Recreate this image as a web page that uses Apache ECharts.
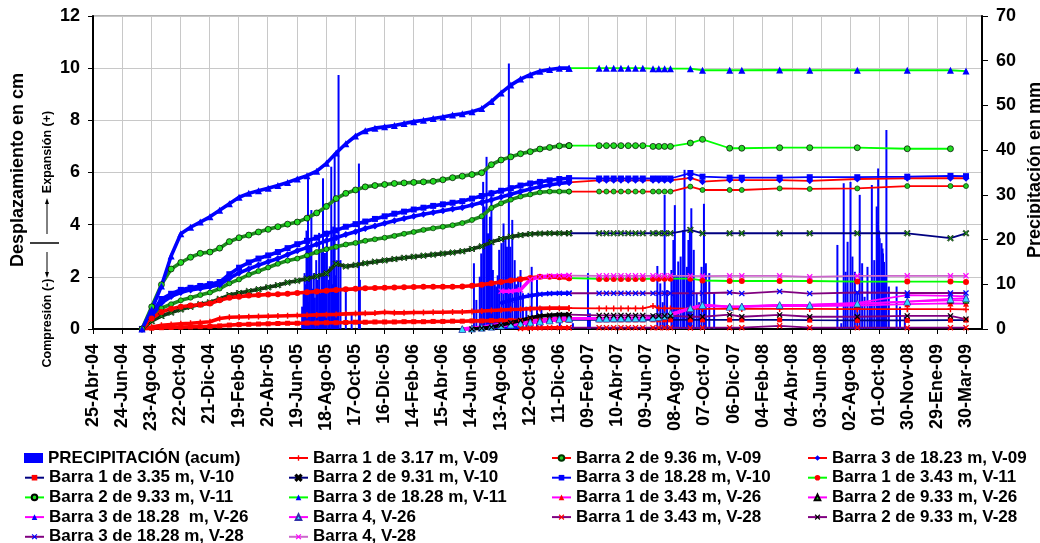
<!DOCTYPE html>
<html><head><meta charset="utf-8">
<script src="https://cdn.jsdelivr.net/npm/echarts@6.0.0/dist/echarts.min.js"></script>
<style>html,body{margin:0;padding:0;background:#fff}#c{width:1040px;height:543px}</style>
</head><body><div id="c"></div>
<script>
// ---------- DATA ----------
const tickLabels = ['25-Abr-04','24-Jun-04','23-Ago-04','22-Oct-04','21-Dic-04','19-Feb-05','20-Abr-05','19-Jun-05','18-Ago-05','17-Oct-05','16-Dic-05','14-Feb-06','15-Abr-06','14-Jun-06','13-Ago-06','12-Oct-06','11-Dic-06','09-Feb-07','10-Abr-07','09-Jun-07','08-Ago-07','07-Oct-07','06-Dic-07','04-Feb-08','04-Abr-08','03-Jun-08','02-Ago-08','01-Oct-08','30-Nov-08','29-Ene-09','30-Mar-09'];

const datesEarly = ['2004-08-04','2004-08-24','2004-09-13','2004-10-03','2004-10-23','2004-11-12','2004-12-02','2004-12-22','2005-01-11','2005-01-31','2005-02-20','2005-03-12','2005-04-01','2005-04-21','2005-05-11','2005-05-31','2005-06-20','2005-07-10','2005-07-30','2005-08-19','2005-09-08','2005-09-28','2005-10-18','2005-11-07','2005-11-27','2005-12-17','2006-01-06','2006-01-26','2006-02-15','2006-03-07','2006-03-27','2006-04-16','2006-05-06','2006-05-26','2006-06-15','2006-07-05','2006-07-25','2006-08-14','2006-09-03','2006-09-23','2006-10-13','2006-11-02','2006-11-22','2006-12-12','2007-01-01'];
const datesV2628 = ['2006-05-26','2006-06-15','2006-07-05','2006-07-25','2006-08-14','2006-09-03','2006-09-23','2006-10-13','2006-11-02','2006-11-22','2006-12-12','2007-01-01'];
const datesLate = ['2007-03-04','2007-03-19','2007-04-03','2007-04-18','2007-05-03','2007-05-18','2007-06-02','2007-06-23','2007-07-05','2007-07-17','2007-07-29','2007-09-08','2007-10-03','2007-11-28','2007-12-23','2008-03-10','2008-05-11','2008-08-17','2008-11-28','2009-02-25','2009-03-29'];

// V-09
const v09b1Early = [0,0.08,0.14,0.17,0.2,0.22,0.25,0.28,0.4,0.45,0.46,0.47,0.48,0.49,0.5,0.51,0.52,0.53,0.54,0.55,0.56,0.58,0.59,0.6,0.61,0.64,0.62,0.62,0.63,0.63,0.64,0.64,0.65,0.65,0.67,0.69,0.71,0.73,0.75,0.76,0.78,0.79,0.8,0.8,0.8];
const v09b1Late  = [0.79,0.79,0.79,0.79,0.79,0.79,0.79,0.88,0.8,0.79,0.79,0.78,0.77,0.77,0.77,0.77,0.77,0.76,0.76,0.76,0.75];
const v09b2Early = [0,0.45,0.8,0.95,1.1,1.2,1.3,1.4,1.55,1.75,1.9,2.08,2.22,2.36,2.5,2.62,2.7,2.82,2.95,3.06,3.15,3.24,3.3,3.38,3.44,3.5,3.57,3.65,3.72,3.8,3.86,3.92,3.98,4.06,4.18,4.32,4.64,4.82,4.96,5.08,5.16,5.24,5.27,5.27,5.27];
const v09b2Late  = [5.27,5.27,5.27,5.27,5.27,5.27,5.27,5.27,5.27,5.27,5.27,5.46,5.33,5.33,5.33,5.39,5.37,5.39,5.48,5.48,5.48];
const v09b3Early = [0,0.5,1.0,1.25,1.4,1.5,1.55,1.62,1.7,1.95,2.15,2.3,2.45,2.58,2.7,2.85,3.0,3.12,3.25,3.38,3.5,3.62,3.73,3.85,3.95,4.05,4.15,4.24,4.32,4.4,4.47,4.53,4.6,4.66,4.75,4.85,4.95,5.06,5.17,5.27,5.37,5.45,5.52,5.58,5.62];
const v09b3Late  = [5.7,5.7,5.7,5.7,5.7,5.7,5.7,5.7,5.7,5.7,5.7,5.79,5.65,5.71,5.71,5.71,5.68,5.75,5.78,5.78,5.78];
// V-10
const v10b1Early = [0,0.03,0.05,0.06,0.07,0.08,0.09,0.1,0.12,0.15,0.17,0.18,0.19,0.2,0.21,0.22,0.22,0.23,0.23,0.24,0.24,0.25,0.26,0.26,0.27,0.27,0.27,0.28,0.28,0.28,0.29,0.29,0.3,0.3,0.31,0.31,0.32,0.32,0.33,0.33,0.34,0.34,0.35,0.35,0.35];
const v10b1Late  = [0.35,0.35,0.35,0.35,0.35,0.35,0.35,0.35,0.35,0.35,0.35,0.35,0.35,0.35,0.35,0.35,0.34,0.33,0.33,0.34,0.34];
const v10b2Early = [0,0.3,0.5,0.63,0.75,0.85,0.95,1.02,1.15,1.3,1.38,1.45,1.52,1.6,1.68,1.78,1.85,1.93,2.02,2.13,2.5,2.4,2.45,2.52,2.58,2.63,2.68,2.73,2.77,2.81,2.85,2.89,2.93,2.98,3.07,3.17,3.33,3.45,3.54,3.6,3.64,3.66,3.67,3.67,3.67];
const v10b2Late  = [3.67,3.67,3.67,3.67,3.67,3.67,3.67,3.67,3.67,3.67,3.67,3.8,3.67,3.67,3.67,3.67,3.67,3.67,3.67,3.48,3.67];
const v10b3Early = [0,0.6,1.15,1.35,1.5,1.58,1.65,1.72,1.8,2.1,2.35,2.55,2.7,2.82,2.95,3.1,3.25,3.38,3.5,3.65,3.78,3.92,4.02,4.12,4.22,4.32,4.42,4.5,4.58,4.65,4.72,4.78,4.84,4.9,5.0,5.1,5.2,5.3,5.4,5.5,5.58,5.64,5.7,5.75,5.78];
const v10b3Late  = [5.77,5.77,5.77,5.77,5.77,5.77,5.77,5.77,5.77,5.77,5.77,5.98,5.84,5.8,5.8,5.8,5.82,5.82,5.84,5.87,5.86];
// V-11
const v11b1Early = [0,0.4,0.65,0.78,0.85,0.9,0.93,0.98,1.1,1.2,1.24,1.28,1.3,1.32,1.33,1.35,1.38,1.41,1.44,1.47,1.5,1.52,1.54,1.56,1.57,1.58,1.59,1.6,1.61,1.62,1.62,1.62,1.62,1.63,1.66,1.7,1.75,1.8,1.86,1.91,1.96,2.0,2.0,1.98,1.95];
const v11b1Late  = [1.92,1.92,1.92,1.92,1.92,1.92,1.92,1.92,1.93,1.93,1.93,1.93,1.86,1.84,1.84,1.84,1.84,1.82,1.82,1.82,1.8];
const v11b2Early = [0,0.85,1.7,2.3,2.55,2.75,2.9,2.95,3.1,3.35,3.5,3.6,3.72,3.82,3.92,4.02,4.1,4.25,4.45,4.7,5.0,5.2,5.33,5.45,5.5,5.54,5.58,5.6,5.62,5.64,5.66,5.72,5.8,5.86,5.92,5.99,6.3,6.48,6.6,6.72,6.8,6.9,6.96,7.02,7.03];
const v11b2Late  = [7.03,7.03,7.03,7.03,7.03,7.03,7.03,7.0,7.0,7.0,7.0,7.13,7.27,6.93,6.93,6.95,6.95,6.95,6.91,6.91,null];
const v11b3Early = [0,0.75,1.65,2.8,3.65,3.9,4.1,4.3,4.55,4.8,5.05,5.2,5.3,5.4,5.5,5.62,5.75,5.88,6.05,6.35,6.75,7.1,7.4,7.6,7.7,7.75,7.8,7.88,7.95,8.0,8.07,8.13,8.2,8.25,8.33,8.45,8.72,9.05,9.35,9.58,9.75,9.88,9.95,10.0,10.0];
const v11b3Late  = [10.0,10.0,10.0,10.0,10.0,10.0,10.0,9.98,9.98,9.98,9.98,9.98,9.92,9.92,9.92,9.93,9.92,9.92,9.92,9.92,9.89];
// V-26
const v26b1Early = [0,0.02,0.05,0.1,0.14,0.18,0.22,0.26,0.3,0.34,0.37,0.39];
const v26b1Late  = [0.39,0.39,0.4,0.4,0.4,0.4,0.4,0.42,0.45,0.48,0.5,0.76,0.88,0.84,0.85,0.88,0.88,0.9,0.95,0.98,0.97];
const v26b2Early = [0,0.03,0.06,0.11,0.15,0.2,0.24,0.28,0.32,0.36,0.39,0.41];
const v26b2Late  = [0.41,0.41,0.42,0.42,0.42,0.42,0.42,0.44,0.47,0.5,0.55,0.8,0.92,0.86,0.86,0.9,0.9,0.95,1.05,1.1,1.1];
const v26b3Early = [0,0.03,0.07,0.12,0.17,0.22,0.26,0.3,0.34,0.38,0.41,0.43];
const v26b3Late  = [0.43,0.43,0.44,0.44,0.44,0.44,0.44,0.46,0.5,0.53,0.58,0.82,0.93,0.87,0.88,0.92,0.93,1.0,1.3,1.27,1.25];
const v26b4Early = [0,0.02,0.05,0.09,0.13,0.17,0.21,0.25,0.29,0.33,0.37,0.4];
const v26b4Late  = [0.4,0.4,0.41,0.41,0.41,0.41,0.41,0.43,0.46,0.5,0.6,0.8,0.92,0.85,0.86,0.92,0.92,0.98,1.05,1.15,1.18];
// V-28
const v28b1Early = [null,null,null,null,null,null,0.02,0.03,0.04,0.05,0.05,0.05];
const v28b1Late  = [0.05,0.05,0.05,0.05,0.05,0.05,0.05,0.05,0.05,0.05,0.05,0.04,0.05,0.05,0.05,0.12,0.05,0.05,0.05,0.05,0.05];
const v28b2Early = [null,0,0.03,0.07,0.15,0.24,0.33,0.43,0.5,0.53,0.55,0.55];
const v28b2Late  = [0.52,0.52,0.52,0.52,0.52,0.52,0.52,0.5,0.5,0.5,0.5,0.47,0.47,0.55,0.47,0.54,0.47,0.47,0.5,0.5,0.38];
const v28b3Early = [null,null,null,null,1.0,1.1,1.2,1.28,1.33,1.36,1.37,1.37];
const v28b3Late  = [1.37,1.37,1.37,1.37,1.37,1.37,1.37,1.37,1.37,1.37,1.37,1.37,1.37,1.4,1.36,1.44,1.36,1.4,1.38,1.38,1.38];
const v28b4Early = [null,null,null,null,1.45,1.45,1.5,1.9,2.0,2.03,2.04,2.05];
const v28b4Late  = [2.04,2.04,2.04,2.04,2.04,2.04,2.04,2.04,2.04,2.04,2.04,2.04,2.03,2.04,2.04,2.04,2.0,2.04,2.04,2.04,2.04];

// Precipitation (mm)
const precipDates = ['2005-06-30','2005-07-03','2005-07-05','2005-07-07','2005-07-09','2005-07-12','2005-07-14','2005-07-16','2005-07-19','2005-07-21','2005-07-24','2005-07-26','2005-07-29','2005-08-01','2005-08-04','2005-08-06','2005-08-09','2005-08-12','2005-08-14','2005-08-16','2005-08-18','2005-08-20','2005-08-24','2005-08-26','2005-08-29','2005-08-31','2005-09-02','2005-09-05','2005-09-07','2005-09-09','2005-09-11','2005-09-13','2005-09-17','2005-09-28','2005-10-10','2005-10-25','2005-10-27',
'2006-06-19','2006-06-24','2006-07-01','2006-07-04','2006-07-08','2006-07-11','2006-07-15','2006-07-18','2006-07-22','2006-07-25','2006-07-28','2006-08-01','2006-08-04','2006-08-07','2006-08-10','2006-08-15','2006-08-19','2006-08-23','2006-08-26','2006-08-30','2006-09-02','2006-09-06','2006-09-11','2006-09-14','2006-09-18','2006-09-23','2006-09-28','2006-10-05','2006-10-16','2006-10-27','2006-11-05','2006-12-13','2007-01-09','2007-02-09','2007-02-13',
'2007-07-02','2007-07-08','2007-07-13','2007-07-17','2007-07-22','2007-07-31','2007-08-04','2007-08-07','2007-08-11','2007-08-14','2007-08-19','2007-08-24','2007-08-27','2007-09-01','2007-09-04','2007-09-07','2007-09-10','2007-09-15','2007-09-21','2007-09-26','2007-10-01','2007-10-06','2007-10-10','2007-10-17','2007-10-27',
'2008-07-07','2008-07-15','2008-07-20','2008-07-24','2008-07-28','2008-08-03','2008-08-07','2008-08-12','2008-08-17','2008-08-22','2008-08-27','2008-09-01','2008-09-07','2008-09-12','2008-09-16','2008-09-21','2008-09-26','2008-09-28','2008-09-29','2008-10-01','2008-10-02','2008-10-06','2008-10-08','2008-10-09','2008-10-11','2008-10-13','2008-10-16','2008-10-21','2008-11-06','2008-11-13','2008-11-23'];
const precipMm = [5.0,8,12.5,10,22,33.7,6,18.4,26.6,9,12.5,7,15.4,11,21.5,8,17.7,33.7,12,17,9,22,11,14,36.3,10,22.9,39.3,12,15.4,9,56.8,15.4,8.7,3.5,37,11,
14.7,6.5,11.7,16.9,32.9,27.4,38.5,21.4,25.1,31.1,13.2,10,9.5,12,17.7,19.2,23.6,20.6,18.4,59.4,18.4,24.4,15.4,10,11.7,13.2,8,5,13.9,11,5,3.5,1.3,12.5,3.5,
14.1,10.2,6,30,8.7,13.2,19.9,27.7,12,15.1,16.2,22.1,35.6,13.9,19.9,22.1,27,17.7,8,6,13.9,28,14.7,12.5,8,
18.8,1.3,32.6,12.8,19.5,32.9,16.2,12.8,8,30,14.7,7.2,13.9,6,32.2,15.4,27.4,24,35.9,22,20.3,19.2,18,16.9,15,12,44.5,9.5,9.5,5,2.8];

const legPrecip = ['PRECIPITACIÓN (acum)'];
const legCol1 = ['Barra 1 de 3.35 m, V-10','Barra 2 de 9.33 m, V-11','Barra 3 de 18.28  m, V-26','Barra 3 de 18.28 m, V-28'];
const legCol2 = ['Barra 1 de 3.17 m, V-09','Barra 2 de 9.31 m, V-10','Barra 3 de 18.28 m, V-11','Barra 4, V-26','Barra 4, V-28'];
const legCol3 = ['Barra 2 de 9.36 m, V-09','Barra 3 de 18.28 m, V-10','Barra 1 de 3.43 m, V-26','Barra 1 de 3.43 m, V-28'];
const legCol4 = ['Barra 3 de 18.23 m, V-09','Barra 1 de 3.43 m, V-11','Barra 2 de 9.33 m, V-26','Barra 2 de 9.33 m, V-28'];

// ---------- BUILD ----------
const DAY0 = Date.UTC(2004,3,25);
function toDay(s){const p=s.split('-');return Math.round((Date.UTC(+p[0],+p[1]-1,+p[2])-DAY0)/86400000);}
function pairs(d,v){const o=[];for(let i=0;i<d.length;i++){if(v[i]!==null&&v[i]!==undefined)o.push([toDay(d[i]),v[i]]);}return o;}

const FONT='"Liberation Sans", Arial, sans-serif';
const SYM_X='path://M0,1.5L1.5,0L5,3.5L8.5,0L10,1.5L6.5,5L10,8.5L8.5,10L5,6.5L1.5,10L0,8.5L3.5,5Z';
const SYM_PLUS='path://M3.8,0H6.2V3.8H10V6.2H6.2V10H3.8V6.2H0V3.8H3.8Z';

// each measurement series: sparse part (series A, gives legend look) + dense part (series B, same name)
function lineSeries(name, early, late, dEarly, lineColor, symbol, symColor, size, border, bandColor){
  const e = pairs(dEarly, early), l = pairs(datesLate, late);
  const item = {color:symColor,borderColor:border||symColor,borderWidth:border?0.7:0};
  const A = {type:'line', name, yAxisIndex:0, data:[e[e.length-1]].concat(l),
    symbol, symbolSize:size, showSymbol:true, showAllSymbol:true,
    lineStyle:{color:lineColor,width:1.8}, itemStyle:item, emphasis:{disabled:true}, animation:false};
  const B = {type:'line', name, yAxisIndex:0, data:e,
    symbol, symbolSize:size, showSymbol:true, showAllSymbol:true,
    lineStyle:{color:bandColor,width:3.6}, itemStyle:item, emphasis:{disabled:true}, animation:false};
  return [A,B];
}

const series = [
  {type:'bar', name:'PRECIPITACIÓN (acum)', yAxisIndex:1,
   data: precipDates.map((d,i)=>[toDay(d),precipMm[i]]),
   barWidth:2, itemStyle:{color:'#0000FF'}, animation:false},
  ...lineSeries('Barra 1 de 3.17 m, V-09', v09b1Early, v09b1Late, datesEarly, '#FF0000', SYM_PLUS, '#FF0000', 6, null, '#FF0000'),
  ...lineSeries('Barra 2 de 9.36 m, V-09', v09b2Early, v09b2Late, datesEarly, '#FF0000', 'circle', '#22CC22', 5, '#003300', '#1E8C1E'),
  ...lineSeries('Barra 3 de 18.23 m, V-09', v09b3Early, v09b3Late, datesEarly, '#FF0000', 'diamond', '#0000FF', 7, null, '#0000FF'),
  ...lineSeries('Barra 1 de 3.35 m, V-10', v10b1Early, v10b1Late, datesEarly, '#000080', 'rect', '#FF0000', 5, null, '#FF0000'),
  ...lineSeries('Barra 2 de 9.31 m, V-10', v10b2Early, v10b2Late, datesEarly, '#000080', SYM_X, '#22AA22', 6, '#000000', '#143C14'),
  ...lineSeries('Barra 3 de 18.28 m, V-10', v10b3Early, v10b3Late, datesEarly, '#0000FF', 'rect', '#0000FF', 6, null, '#0000FF'),
  ...lineSeries('Barra 1 de 3.43 m, V-11', v11b1Early, v11b1Late, datesEarly, '#00FF00', 'circle', '#FF0000', 6, null, '#FF0000'),
  ...lineSeries('Barra 2 de 9.33 m, V-11', v11b2Early, v11b2Late, datesEarly, '#00FF00', 'circle', '#22DD22', 6, '#000000', '#1E8C1E'),
  ...lineSeries('Barra 3 de 18.28 m, V-11', v11b3Early, v11b3Late, datesEarly, '#00FF00', 'triangle', '#0000FF', 7, null, '#0000FF'),
  ...lineSeries('Barra 1 de 3.43 m, V-26', v26b1Early, v26b1Late, datesV2628, '#FF00FF', 'triangle', '#FF0000', 6, null, '#FF00FF'),
  ...lineSeries('Barra 2 de 9.33 m, V-26', v26b2Early, v26b2Late, datesV2628, '#FF00FF', 'triangle', '#22CC22', 6, '#000000', '#FF00FF'),
  ...lineSeries('Barra 3 de 18.28  m, V-26', v26b3Early, v26b3Late, datesV2628, '#FF00FF', 'triangle', '#0000FF', 6, null, '#FF00FF'),
  ...lineSeries('Barra 4, V-26', v26b4Early, v26b4Late, datesV2628, '#FF00FF', 'triangle', '#33DDFF', 7, '#3333AA', '#FF00FF'),
  ...lineSeries('Barra 1 de 3.43 m, V-28', v28b1Early, v28b1Late, datesV2628, '#800080', SYM_X, '#FF0000', 6, null, '#FF0000'),
  ...lineSeries('Barra 2 de 9.33 m, V-28', v28b2Early, v28b2Late, datesV2628, '#800080', SYM_X, '#000000', 6, null, '#000000'),
  ...lineSeries('Barra 3 de 18.28 m, V-28', v28b3Early, v28b3Late, datesV2628, '#800080', SYM_X, '#0000FF', 6, null, '#0000FF'),
  ...lineSeries('Barra 4, V-28', v28b4Early, v28b4Late, datesV2628, '#CC66CC', SYM_X, '#FF00FF', 6, null, '#FF00FF')
];

function legend(data, left, top, ih){
  return {orient:'vertical', left, top, height:130, itemWidth:19, itemHeight:ih, itemGap:2.7,
    data: data.map(n => n==='PRECIPITACIÓN (acum)' ? {name:n, icon:'rect'} : n),
    textStyle:{fontFamily:FONT, fontWeight:'bold', fontSize:17, color:'#000'},
    selectedMode:false, padding:0};
}

const chart = echarts.init(document.getElementById('c'), null, {renderer:'canvas'});
chart.setOption({
  animation:false,
  backgroundColor:'#fff',
  grid:{left:93, right:58, top:16, bottom:214, show:true, borderColor:'#9a9a9a', borderWidth:1.5, containLabel:false},
  xAxis:{type:'value', min:0, max:1832, interval:60,
    axisLine:{show:true, onZero:false, lineStyle:{color:'#000', width:2}},
    axisTick:{show:true, inside:false, length:5, lineStyle:{color:'#000', width:1}},
    axisLabel:{rotate:90, margin:15, fontFamily:FONT, fontWeight:'bold', fontSize:18, color:'#000',
      showMaxLabel:false, hideOverlap:false,
      formatter:v=>{const i=v/60;return (Number.isInteger(i)&&tickLabels[i])?tickLabels[i]:'';}},
    splitLine:{show:true, lineStyle:{color:'#c8c8c8', width:1}}},
  yAxis:[
    {type:'value', min:0, max:12, interval:2, position:'left',
     axisLine:{show:true, onZero:false, lineStyle:{color:'#000', width:2}},
     axisTick:{show:true, inside:false, length:5, lineStyle:{color:'#000'}},
     axisLabel:{margin:13, fontFamily:FONT, fontWeight:'bold', fontSize:18, color:'#000'},
     splitLine:{show:true, lineStyle:{color:'#c8c8c8', width:1}}},
    {type:'value', min:0, max:70, interval:10, position:'right',
     axisLine:{show:true, onZero:false, lineStyle:{color:'#000', width:2}},
     axisTick:{show:true, inside:false, length:6, lineStyle:{color:'#000'}},
     axisLabel:{margin:14, fontFamily:FONT, fontWeight:'bold', fontSize:18, color:'#000'},
     splitLine:{show:false}}
  ],
  legend:[legend(legPrecip,24,449.5,10), legend(legCol1,24,469.2,7), legend(legCol2,288,449.5,7), legend(legCol3,551,449.5,7), legend(legCol4,807,449.5,7)],
  graphic:[
    {type:'text', x:18, y:170, rotation:Math.PI/2, silent:true,
     style:{text:'Desplazamiento en cm', font:'bold 18px '+FONT, fill:'#000', align:'center', verticalAlign:'middle'}},
    {type:'text', x:1035, y:170, rotation:Math.PI/2, silent:true,
     style:{text:'Precipitación en mm', font:'bold 18px '+FONT, fill:'#000', align:'center', verticalAlign:'middle'}},
    {type:'text', x:48, y:152, rotation:Math.PI/2, silent:true,
     style:{text:'Expansión (+)', font:'bold 12.5px '+FONT, fill:'#000', align:'center', verticalAlign:'middle'}},
    {type:'text', x:48, y:323, rotation:Math.PI/2, silent:true,
     style:{text:'Compresión (-)', font:'bold 12.5px '+FONT, fill:'#000', align:'center', verticalAlign:'middle'}},
    {type:'line', silent:true, shape:{x1:47,y1:234,x2:47,y2:202}, style:{stroke:'#000', lineWidth:1}},
    {type:'polygon', silent:true, shape:{points:[[47,198],[45,204],[49,204]]}, style:{fill:'#000'}},
    {type:'line', silent:true, shape:{x1:30,y1:243,x2:59,y2:243}, style:{stroke:'#000', lineWidth:1.5}},
    {type:'line', silent:true, shape:{x1:47,y1:252,x2:47,y2:274}, style:{stroke:'#000', lineWidth:1}},
    {type:'polygon', silent:true, shape:{points:[[47,278],[45,272],[49,272]]}, style:{fill:'#000'}}
  ],
  series
});
</script></body></html>
